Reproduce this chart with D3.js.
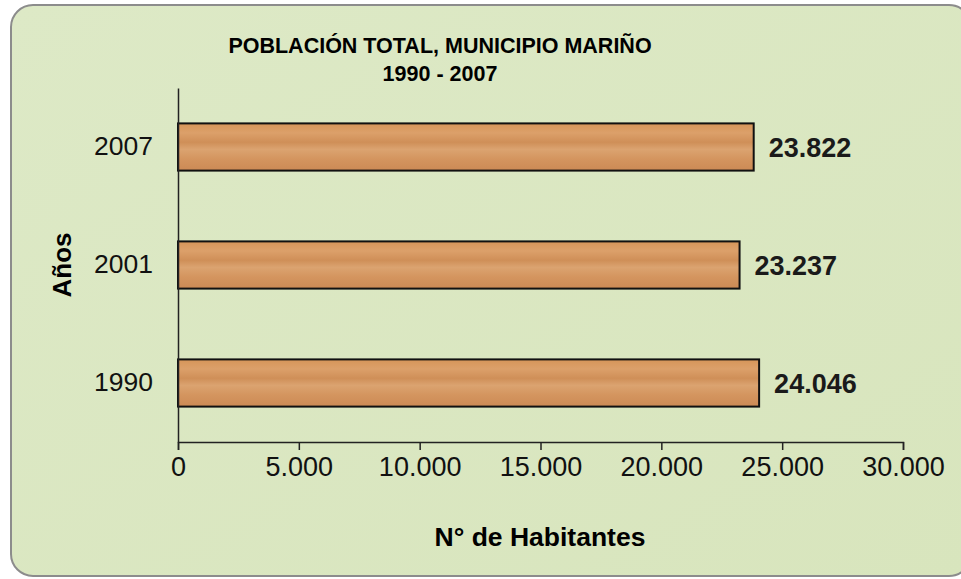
<!DOCTYPE html>
<html>
<head>
<meta charset="utf-8">
<script src="https://cdn.jsdelivr.net/npm/d3@7"></script>
<style>
  body { margin: 0; background: #ffffff; }
  text { font-family: Arial, "Liberation Sans", sans-serif; }
</style>
</head>
<body>
<div id="container"></div>
<script>
/* DATA */
const years = ["1990", "2001", "2007"];
const population = [24046, 23237, 23822];
const xTicks = [0, 5000, 10000, 15000, 20000, 25000, 30000];

/* LAYOUT */
const W = 961, H = 579;
const margin = { top: 88, right: 58, bottom: 137, left: 178 };
const width = W - margin.left - margin.right;
const height = H - margin.top - margin.bottom;

const svg = d3.select("#container")
  .append("svg")
  .attr("width", W)
  .attr("height", H);

const defs = svg.append("defs");

// wood-ish bar fill
const wood = defs.append("linearGradient")
  .attr("id", "wood")
  .attr("x1", 0).attr("y1", 0).attr("x2", 0).attr("y2", 1);
[[0, "#d69559"], [0.2, "#dca06a"], [0.4, "#cf8f58"], [0.55, "#dba370"], [0.75, "#d4955f"], [1, "#cc8a55"]]
  .forEach(s => wood.append("stop").attr("offset", s[0]).attr("stop-color", s[1]));

const bg = defs.append("linearGradient")
  .attr("id", "bg")
  .attr("x1", 0).attr("y1", 0).attr("x2", 1).attr("y2", 1);
bg.append("stop").attr("offset", 0).attr("stop-color", "#dde9c6");
bg.append("stop").attr("offset", 1).attr("stop-color", "#d8e5bd");

// frame
svg.append("rect")
  .attr("x", 11).attr("y", 5)
  .attr("width", 960).attr("height", 571)
  .attr("rx", 22).attr("ry", 22)
  .attr("fill", "url(#bg)")
  .attr("stroke", "#8c8c8c")
  .attr("stroke-width", 2);

// title
svg.append("text")
  .attr("x", 440).attr("y", 53)
  .attr("text-anchor", "middle")
  .style("font-size", "21.5px").style("font-weight", "bold")
  .text("POBLACIÓN TOTAL, MUNICIPIO MARIÑO");
svg.append("text")
  .attr("x", 440).attr("y", 81)
  .attr("text-anchor", "middle")
  .style("font-size", "21.5px").style("font-weight", "bold")
  .text("1990 - 2007");

const g = svg.append("g")
  .attr("transform", `translate(${margin.left},${margin.top})`);

const x = d3.scaleLinear().domain([0, 30000]).range([0, width]);
const y = d3.scaleBand()
  .domain(years.slice().reverse())
  .range([0, height])
  .paddingInner(0.6)
  .paddingOuter(0.3);

const fmt = d3.formatLocale({ decimal: ",", thousands: ".", grouping: [3], currency: ["", ""] }).format(",");

// bars
const rows = years.map((yr, i) => ({ year: yr, value: population[i] }));

g.selectAll("rect.bar")
  .data(rows)
  .join("rect")
  .attr("class", "bar")
  .attr("x", 0)
  .attr("y", d => y(d.year))
  .attr("width", d => x(d.value))
  .attr("height", y.bandwidth())
  .attr("fill", "url(#wood)")
  .attr("stroke", "#111")
  .attr("stroke-width", 2);

g.selectAll("text.val")
  .data(rows)
  .join("text")
  .attr("class", "val")
  .attr("x", d => x(d.value) + 15)
  .attr("y", d => y(d.year) + y.bandwidth() / 2)
  .attr("dy", "0.36em")
  .style("font-size", "27px").style("font-weight", "bold")
  .style("fill", "#1a1a1a")
  .text(d => fmt(d.value));

// x axis
const xAxis = g.append("g")
  .attr("transform", `translate(0,${height})`)
  .call(d3.axisBottom(x).tickValues(xTicks).tickSize(8).tickPadding(7)
    .tickFormat(d => fmt(d)));
xAxis.select(".domain").attr("stroke", "#222").attr("stroke-width", 1.5);
xAxis.selectAll(".tick line").attr("stroke", "#222").attr("stroke-width", 1.5);
xAxis.selectAll(".tick text")
  .style("font-size", "27px").style("fill", "#111");

// y axis
const yAxis = g.append("g")
  .call(d3.axisLeft(y).tickSize(0).tickPadding(25));
yAxis.select(".domain").attr("stroke", "#222").attr("stroke-width", 1.5);
yAxis.selectAll(".tick text")
  .style("font-size", "26.5px").style("fill", "#111");

// axis titles
svg.append("text")
  .attr("x", 540).attr("y", 546)
  .attr("text-anchor", "middle")
  .style("font-size", "26.5px").style("font-weight", "bold")
  .text("N° de Habitantes");

svg.append("text")
  .attr("transform", "translate(71,265) rotate(-90)")
  .attr("text-anchor", "middle")
  .style("font-size", "26px").style("font-weight", "bold")
  .text("Años");
</script>
</body>
</html>
